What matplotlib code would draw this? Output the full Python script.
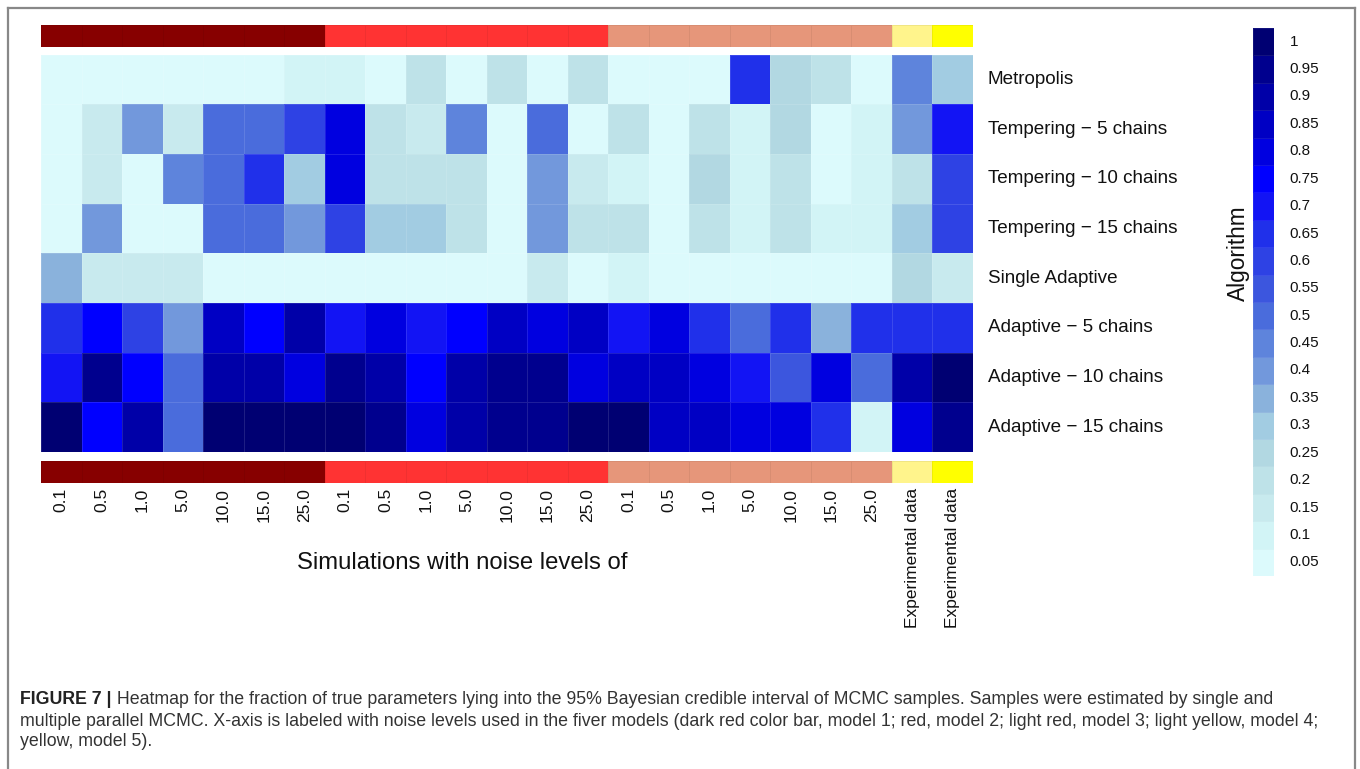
import matplotlib
matplotlib.use("Agg")
import matplotlib.pyplot as plt
import numpy as np
from matplotlib.colors import ListedColormap, BoundaryNorm
from matplotlib.lines import Line2D

plt.rcParams['font.family'] = ['Liberation Sans', 'DejaVu Sans']

# ---------------- data ----------------
algorithms = ["Metropolis", "Tempering \u2212 5 chains", "Tempering \u2212 10 chains",
              "Tempering \u2212 15 chains", "Single Adaptive", "Adaptive \u2212 5 chains",
              "Adaptive \u2212 10 chains", "Adaptive \u2212 15 chains"]

noise_labels = ["0.1", "0.5", "1.0", "5.0", "10.0", "15.0", "25.0"] * 3 + \
               ["Experimental data", "Experimental data"]
model_of_column = [1] * 7 + [2] * 7 + [3] * 7 + [4] + [5]
model_colors = {1: "#870000", 2: "#FF3333", 3: "#E6967A", 4: "#FFF48C", 5: "#FFFF00"}

metropolis   = [0.05, 0.05, 0.05, 0.05, 0.05, 0.05, 0.10, 0.10, 0.05, 0.20, 0.05, 0.20,
                0.05, 0.20, 0.05, 0.05, 0.05, 0.65, 0.25, 0.20, 0.05, 0.45, 0.30]
tempering5   = [0.05, 0.15, 0.40, 0.15, 0.50, 0.50, 0.60, 0.80, 0.20, 0.15, 0.45, 0.05,
                0.50, 0.05, 0.20, 0.05, 0.20, 0.10, 0.25, 0.05, 0.10, 0.40, 0.70]
tempering10  = [0.05, 0.15, 0.05, 0.45, 0.50, 0.65, 0.30, 0.80, 0.20, 0.20, 0.20, 0.05,
                0.40, 0.15, 0.10, 0.05, 0.25, 0.10, 0.20, 0.05, 0.10, 0.20, 0.60]
tempering15  = [0.05, 0.40, 0.05, 0.05, 0.50, 0.50, 0.40, 0.60, 0.30, 0.30, 0.20, 0.05,
                0.40, 0.20, 0.20, 0.05, 0.20, 0.10, 0.20, 0.10, 0.10, 0.30, 0.60]
single_adapt = [0.35, 0.15, 0.15, 0.15, 0.05, 0.05, 0.05, 0.05, 0.05, 0.05, 0.05, 0.05,
                0.15, 0.05, 0.10, 0.05, 0.05, 0.05, 0.05, 0.05, 0.05, 0.25, 0.15]
adaptive5    = [0.65, 0.75, 0.60, 0.40, 0.85, 0.75, 0.90, 0.70, 0.80, 0.70, 0.75, 0.85,
                0.80, 0.85, 0.70, 0.80, 0.65, 0.50, 0.65, 0.35, 0.65, 0.65, 0.65]
adaptive10   = [0.70, 0.95, 0.75, 0.50, 0.90, 0.90, 0.80, 0.95, 0.90, 0.75, 0.90, 0.95,
                0.95, 0.80, 0.85, 0.85, 0.80, 0.70, 0.55, 0.80, 0.50, 0.90, 1.00]
adaptive15   = [1.00, 0.75, 0.90, 0.50, 1.00, 1.00, 1.00, 1.00, 0.95, 0.80, 0.90, 0.95,
                0.95, 1.00, 1.00, 0.85, 0.85, 0.80, 0.80, 0.65, 0.10, 0.80, 0.95]

level_values = [0.05, 0.1, 0.15, 0.2, 0.25, 0.3, 0.35, 0.4, 0.45, 0.5,
                0.55, 0.6, 0.65, 0.7, 0.75, 0.8, 0.85, 0.9, 0.95, 1.0]
level_labels = ["0.05", "0.1", "0.15", "0.2", "0.25", "0.3", "0.35", "0.4", "0.45", "0.5",
                "0.55", "0.6", "0.65", "0.7", "0.75", "0.8", "0.85", "0.9", "0.95", "1"]
level_colors = ["#DCFAFC", "#D2F4F6", "#C8EAEE", "#BEE2E8", "#B2D8E2", "#A2CCE2",
                "#8AB2DC", "#7298DC", "#5E84DC", "#4A6CDC", "#3C56DE", "#2E42E4",
                "#2030EA", "#1214F4", "#0000FF", "#0000E0", "#0000C4", "#0000A8",
                "#00008E", "#000072"]

caption_bold = "FIGURE 7 |"
caption_lines = [
    " Heatmap for the fraction of true parameters lying into the 95% Bayesian credible interval of MCMC samples. Samples were estimated by single and",
    "multiple parallel MCMC. X-axis is labeled with noise levels used in the fiver models (dark red color bar, model 1; red, model 2; light red, model 3; light yellow, model 4;",
    "yellow, model 5).",
]

# ---------------- figure ----------------
W, H = 1360, 769
fig = plt.figure(figsize=(W / 100, H / 100), dpi=100)
fig.patch.set_facecolor("white")

def fx(px):
    return px / W

def fy(py):
    return 1 - py / H

matrix = np.array([metropolis, tempering5, tempering10, tempering15,
                   single_adapt, adaptive5, adaptive10, adaptive15])
ncol = matrix.shape[1]
nrow = matrix.shape[0]

cmap = ListedColormap(level_colors)
bounds = np.concatenate([[level_values[0] - 0.025], np.array(level_values) + 0.025])
norm = BoundaryNorm(bounds, cmap.N)

x0, x1 = 41, 973
# heatmap
ax = fig.add_axes([fx(x0), fy(452), fx(x1 - x0), (452 - 54.5) / H])
ax.pcolormesh(np.arange(ncol + 1), np.arange(nrow + 1), matrix, cmap=cmap, norm=norm,
              edgecolors=(1, 1, 1, 0.12), linewidth=0.4)
ax.set_xlim(0, ncol)
ax.set_ylim(nrow, 0)
ax.set_xticks([])
ax.set_yticks([])
for s in ax.spines.values():
    s.set_visible(False)
for i, name in enumerate(algorithms):
    ax.text(ncol + 0.37, i + 0.5, name, ha="left", va="center", fontsize=13.6, color="#111111")

ax.text(1.285, 0.5, "Algorithm", transform=ax.transAxes, rotation=90, ha="center",
        va="center", fontsize=16.3, color="#111111")

# model color bars
bar_colors = [model_colors[m] for m in model_of_column]
for ytop, ybot in [(25, 46.7), (461, 482.7)]:
    bax = fig.add_axes([fx(x0), fy(ybot), fx(x1 - x0), (ybot - ytop) / H])
    bax.pcolormesh(np.arange(ncol + 1), [0, 1],
                   np.arange(ncol).reshape(1, -1),
                   cmap=ListedColormap(bar_colors), vmin=-0.5, vmax=ncol - 0.5,
                   edgecolors=(0, 0, 0, 0.06), linewidth=0.5)
    bax.set_xlim(0, ncol)
    bax.set_ylim(0, 1)
    bax.set_xticks([])
    bax.set_yticks([])
    for s in bax.spines.values():
        s.set_visible(False)
    if ytop > 400:
        for j, lab in enumerate(noise_labels):
            bax.text(j + 0.5, -0.25, lab, rotation=90, ha="center", va="top",
                     fontsize=12.5, color="#111111")
        bax.text(10.4, -3.7, "Simulations with noise levels of", ha="center",
                 va="center", fontsize=17.2, color="#111111")

# color legend
cax = fig.add_axes([fx(1253), fy(576), fx(21), (576 - 28) / H])
cax.pcolormesh([0, 1], np.arange(len(level_values) + 1),
               np.array(level_values).reshape(-1, 1), cmap=cmap, norm=norm,
               edgecolors=(1, 1, 1, 0.08), linewidth=0.4)
cax.set_xlim(0, 1)
cax.set_ylim(0, len(level_values))
cax.set_xticks([])
cax.set_yticks([])
for s in cax.spines.values():
    s.set_visible(False)
for k, lab in enumerate(level_labels):
    cax.text(1.75, k + 0.5, lab, ha="left", va="center", fontsize=11, color="#111111")

# frame lines
fig.add_artist(Line2D([fx(8), fx(8)], [0, fy(8)], color="#888888", lw=1.6))
fig.add_artist(Line2D([fx(8), fx(1355)], [fy(8), fy(8)], color="#888888", lw=1.6))
fig.add_artist(Line2D([fx(1355), fx(1355)], [0, fy(8)], color="#888888", lw=1.6))

# caption
cap_size = 12.8
t = fig.text(fx(20), fy(700), caption_bold, ha="left", va="center", fontsize=cap_size,
             fontweight="bold", color="#222222")
fig.canvas.draw()
bb = t.get_window_extent(renderer=fig.canvas.get_renderer())
fig.text(bb.x1 / W, fy(700), caption_lines[0], ha="left", va="center",
         fontsize=cap_size, color="#333333")
fig.text(fx(20), fy(721), caption_lines[1], ha="left", va="center", fontsize=cap_size,
         color="#333333")
fig.text(fx(20), fy(741), caption_lines[2], ha="left", va="center", fontsize=cap_size,
         color="#333333")

fig.savefig("out.png", dpi=100, facecolor="white")
